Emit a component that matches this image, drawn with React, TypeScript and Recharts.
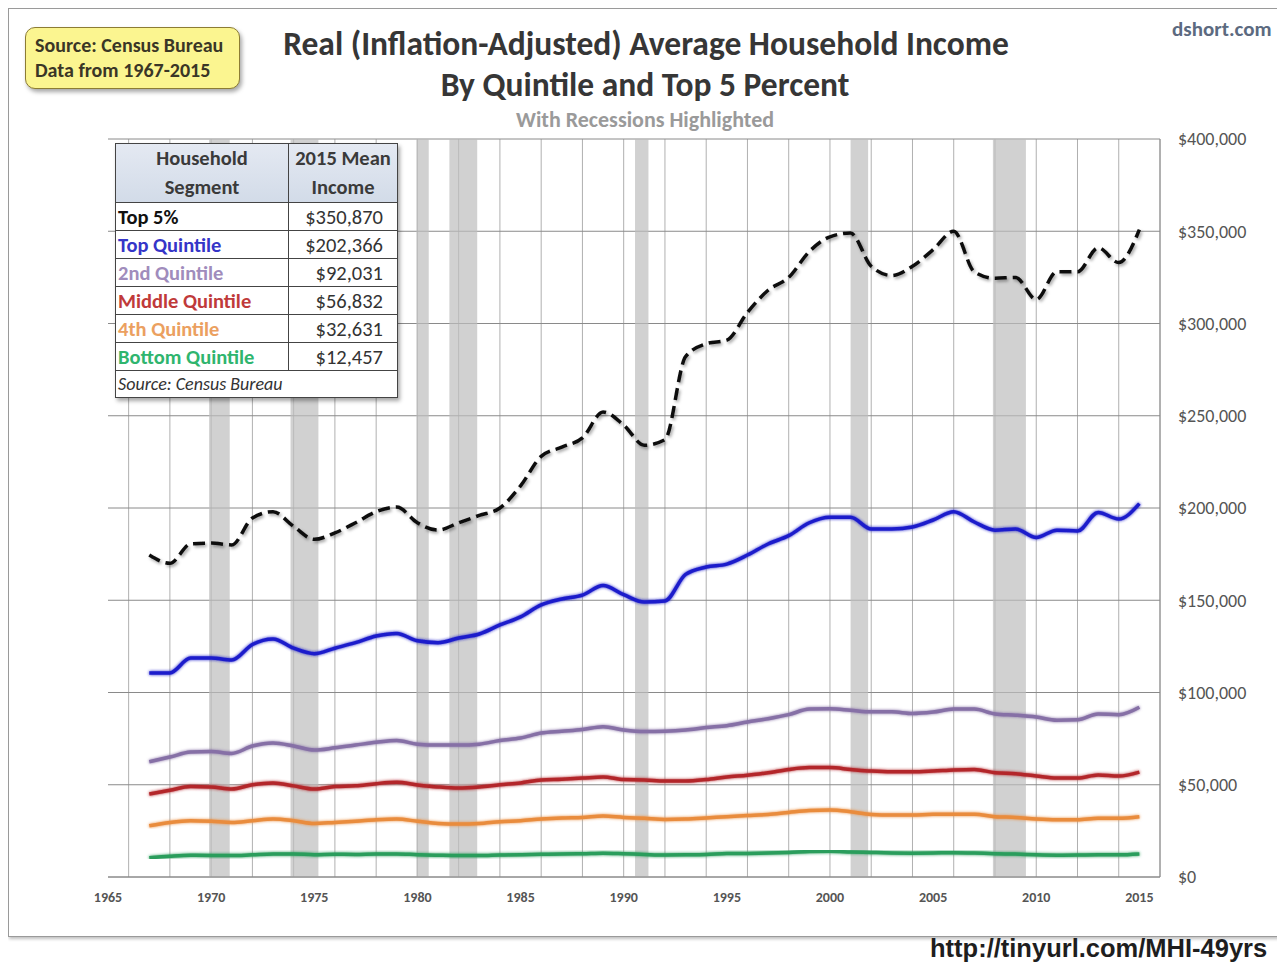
import {
  CartesianGrid,
  Line,
  LineChart,
  ReferenceArea,
  XAxis,
  YAxis,
} from "recharts";

const years = [
  1967, 1968, 1969, 1970, 1971, 1972, 1973, 1974, 1975, 1976, 1977, 1978,
  1979, 1980, 1981, 1982, 1983, 1984, 1985, 1986, 1987, 1988, 1989, 1990,
  1991, 1992, 1993, 1994, 1995, 1996, 1997, 1998, 1999, 2000, 2001, 2002,
  2003, 2004, 2005, 2006, 2007, 2008, 2009, 2010, 2011, 2012, 2013, 2014,
  2015,
];

const top5 = [
  174500, 170000, 180500, 181000, 180000, 194600, 198000, 190000, 183000,
  186500, 192000, 198000, 200500, 192000, 188000, 192000, 196000, 200000,
  212000, 228000, 233000, 238000, 252000, 245000, 234000, 237000, 282000,
  289000, 291000, 306000, 318000, 325000, 339000, 347000, 349000, 331000,
  326000, 331000, 340000, 350000, 328000, 324500, 325000, 313000, 328000,
  328000, 341000, 333000, 350870,
];

const topQuintile = [
  110600, 110600, 118700, 118700, 117600, 126000, 129000, 124000, 121000,
  124000, 127000, 130600, 132000, 128000, 127000, 129500, 131700, 136600,
  141000, 147500, 150700, 152800, 158000, 153000, 149000, 149600, 164000,
  168000, 169600, 174500, 180500, 185000, 192000, 195000, 195000, 188600,
  188600, 189700, 193500, 198000, 192400, 188000, 188600, 184000, 188000,
  187500, 197600, 194000, 202366,
];

const secondQuintile = [
  62500, 65000, 67700, 68000, 67000, 71000, 72600, 71000, 68800, 70000,
  71500, 73000, 74000, 72000, 71500, 71500, 72000, 74000, 75300, 78000,
  79000, 80000, 81500, 79700, 78800, 79000, 79700, 81000, 82000, 84000,
  85800, 88000, 91000, 91200, 90400, 89500, 89500, 88600, 89400, 91000,
  91000, 88400, 87700, 86700, 85000, 85200, 88400, 88000, 92031,
];

const middleQuintile = [
  45000, 47000, 49000, 48800, 47700, 50000, 51000, 49400, 47700, 49000,
  49400, 50600, 51300, 49900, 48800, 48200, 48800, 50000, 51000, 52600,
  53000, 53600, 54200, 52800, 52600, 52000, 52000, 52800, 54200, 55200,
  56500, 58300, 59300, 59300, 58300, 57400, 57000, 57000, 57400, 58000,
  58300, 56500, 56000, 54700, 53600, 53600, 55300, 54700, 56832,
];

const fourthQuintile = [
  27800, 29600, 30500, 30200, 29600, 30500, 31400, 30500, 29000, 29600,
  30200, 31000, 31400, 30200, 29000, 28700, 29000, 30000, 30500, 31400,
  32000, 32300, 33000, 32300, 31800, 31200, 31400, 32000, 32700, 33300,
  33900, 35000, 36000, 36300, 35400, 33900, 33600, 33600, 34000, 34000,
  34000, 32700, 32300, 31400, 31000, 31000, 31800, 31800, 32631,
];

const bottomQuintile = [
  10500, 11300, 11800, 11700, 11600, 12000, 12400, 12500, 12100, 12300,
  12200, 12500, 12500, 12100, 11800, 11600, 11600, 11900, 12100, 12300,
  12500, 12600, 12900, 12600, 12200, 11900, 12000, 12200, 12700, 12800,
  13000, 13300, 13800, 13900, 13600, 13300, 13000, 12900, 13000, 13200,
  13000, 12600, 12400, 12000, 11800, 11900, 12100, 12000, 12457,
];

// recession periods (fractional years)
const recessionStarts = [1969.9, 1973.85, 1979.95, 1981.55, 1990.55, 2001.0, 2007.9];
const recessionEnds = [1970.9, 1975.2, 1980.55, 1982.9, 1991.2, 2001.85, 2009.5];

const yTicks = [0, 50000, 100000, 150000, 200000, 250000, 300000, 350000, 400000];
const labeledYears = [1965, 1970, 1975, 1980, 1985, 1990, 1995, 2000, 2005, 2010, 2015];
const gridYears = Array.from({ length: 52 }, (_, i) => 1965 + i);

const tableSegments = [
  "Top 5%",
  "Top Quintile",
  "2nd Quintile",
  "Middle Quintile",
  "4th Quintile",
  "Bottom Quintile",
];
const tableIncomes = ["$350,870", "$202,366", "$92,031", "$56,832", "$32,631", "$12,457"];
const tableColors = ["#111111", "#3535c8", "#a08cbc", "#c03a3a", "#eba060", "#2fb56e"];

const data = years.map((y, i) => ({
  year: y,
  top5: top5[i],
  topQ: topQuintile[i],
  secondQ: secondQuintile[i],
  middleQ: middleQuintile[i],
  fourthQ: fourthQuintile[i],
  bottomQ: bottomQuintile[i],
}));

const FONT = "Calibri, Carlito, Lato, 'Noto Sans', sans-serif";

const fmtMoney = (v: number) => "$" + v.toLocaleString("en-US");

const cell = { border: "1.5px solid #444", padding: 0 };

export default function App() {
  return (
    <div style={{ position: "relative", width: 1277, height: 954, fontFamily: FONT }}>
      <div
        style={{
          position: "absolute",
          left: 0,
          top: 0,
          width: 1272,
          height: 927,
          border: "1px solid #9a9a9a",
          boxShadow: "1px 2px 3px rgba(0,0,0,0.25)",
          background: "#fff",
        }}
      >
        <LineChart
          width={1272}
          height={927}
          data={data}
          margin={{ top: 130, right: 21, left: 99, bottom: 29 }}
        >
          <defs>
            <filter id="glow" x="-5%" y="-20%" width="110%" height="140%">
              <feGaussianBlur in="SourceGraphic" stdDeviation="1.6" />
              <feMerge>
                <feMergeNode />
                <feMergeNode in="SourceGraphic" />
              </feMerge>
            </filter>
            <filter id="shadow" x="-5%" y="-20%" width="110%" height="140%">
              <feDropShadow dx="1.5" dy="2" stdDeviation="1.5" floodColor="#000" floodOpacity="0.35" />
            </filter>
          </defs>
          <CartesianGrid
            horizontal={false}
            stroke="#b0b0b0"
            strokeWidth={1}
            verticalValues={gridYears}
          />
          {recessionStarts.map((s, i) => (
            <ReferenceArea
              key={s}
              x1={s}
              x2={recessionEnds[i]}
              fill="#bdbdbd"
              fillOpacity={0.7}
              strokeOpacity={0}
              ifOverflow="hidden"
            />
          ))}
          <CartesianGrid vertical={false} stroke="#8a8a8a" strokeWidth={1} />
          <XAxis
            dataKey="year"
            type="number"
            domain={[1965, 2016]}
            ticks={labeledYears}
            allowDataOverflow
            height={30}
            axisLine={{ stroke: "#8a8a8a" }}
            tickLine={false}
            tickMargin={9}
            tick={{ fill: "#555", fontSize: 14, fontWeight: 700, fontFamily: FONT }}
          />
          <YAxis
            orientation="right"
            domain={[0, 400000]}
            ticks={yTicks}
            width={100}
            axisLine={{ stroke: "#8a8a8a" }}
            tickLine={false}
            tickMargin={12}
            tickFormatter={fmtMoney}
            tick={{ fill: "#555", fontSize: 18, fontFamily: FONT }}
          />
          <Line
            type="monotone"
            dataKey="bottomQ"
            stroke="#2a9d5c"
            strokeWidth={3.5}
            dot={false}
            filter="url(#glow)"
            isAnimationActive={false}
          />
          <Line
            type="monotone"
            dataKey="fourthQ"
            stroke="#e98c3e"
            strokeWidth={3.5}
            dot={false}
            filter="url(#glow)"
            isAnimationActive={false}
          />
          <Line
            type="monotone"
            dataKey="middleQ"
            stroke="#b3282c"
            strokeWidth={3.5}
            dot={false}
            filter="url(#glow)"
            isAnimationActive={false}
          />
          <Line
            type="monotone"
            dataKey="secondQ"
            stroke="#8670a6"
            strokeWidth={3.5}
            dot={false}
            filter="url(#glow)"
            isAnimationActive={false}
          />
          <Line
            type="monotone"
            dataKey="topQ"
            stroke="#1e1ecb"
            strokeWidth={3.5}
            dot={false}
            filter="url(#glow)"
            isAnimationActive={false}
          />
          <Line
            type="monotone"
            dataKey="top5"
            stroke="#111"
            strokeWidth={3.5}
            strokeDasharray="12 6"
            dot={false}
            filter="url(#shadow)"
            isAnimationActive={false}
          />
        </LineChart>

        {/* source badge */}
        <div
          style={{
            position: "absolute",
            left: 16,
            top: 18,
            width: 215,
            height: 62,
            background: "#fbf590",
            border: "1.5px solid #8c7c34",
            borderRadius: 10,
            boxShadow: "2px 3px 4px rgba(0,0,0,0.35)",
            fontSize: 20,
            fontWeight: 700,
            color: "#3a3626",
            padding: "5px 0 0 9px",
            boxSizing: "border-box",
            lineHeight: "25px",
            whiteSpace: "nowrap",
          }}
        >
          <div>Source: Census Bureau</div>
          <div>Data from 1967-2015</div>
        </div>

        {/* titles */}
        <div
          style={{
            position: "absolute",
            left: 0,
            width: 1272,
            top: 14,
            textAlign: "center",
            color: "#363636",
            fontWeight: 700,
            fontSize: 33.5,
            lineHeight: "41px",
          }}
        >
          <div style={{ paddingLeft: 2 }}>Real (Inflation-Adjusted) Average Household Income</div>
          <div>By Quintile and Top 5 Percent</div>
        </div>
        <div
          style={{
            position: "absolute",
            left: 0,
            width: 1272,
            top: 97,
            textAlign: "center",
            color: "#9a9a9a",
            fontWeight: 700,
            fontSize: 22,
          }}
        >
          With Recessions Highlighted
        </div>
        <div
          style={{
            position: "absolute",
            left: 1163,
            top: 7,
            color: "#5c6a80",
            fontWeight: 700,
            fontSize: 21,
          }}
        >
          dshort.com
        </div>

        {/* summary table */}
        <table
          style={{
            position: "absolute",
            left: 106,
            top: 134,
            width: 283,
            borderCollapse: "collapse",
            background: "#fff",
            boxShadow: "2px 3px 4px rgba(0,0,0,0.35)",
            border: "1.5px solid #444",
            fontSize: 20.5,
            tableLayout: "fixed",
          }}
        >
          <thead>
            <tr style={{ background: "linear-gradient(#e4e9f2, #d2dbe8)" }}>
              <th
                style={{
                  ...cell,
                  width: 172,
                  fontWeight: 700,
                  color: "#3a3a3a",
                  lineHeight: "29px",
                }}
              >
                Household
                <br />
                Segment
              </th>
              <th
                style={{
                  ...cell,
                  fontWeight: 700,
                  color: "#3a3a3a",
                  lineHeight: "29px",
                }}
              >
                2015 Mean
                <br />
                Income
              </th>
            </tr>
          </thead>
          <tbody>
            {tableSegments.map((seg, i) => (
              <tr key={seg} style={{ height: 28 }}>
                <td
                  style={{
                    ...cell,
                    color: tableColors[i],
                    fontWeight: 700,
                    padding: "0 2px",
                    lineHeight: "26px",
                    whiteSpace: "nowrap",
                  }}
                >
                  {seg}
                </td>
                <td
                  style={{
                    ...cell,
                    color: "#333",
                    textAlign: "right",
                    padding: "0 14px 0 0",
                    lineHeight: "26px",
                  }}
                >
                  {tableIncomes[i]}
                </td>
              </tr>
            ))}
            <tr style={{ height: 27 }}>
              <td
                colSpan={2}
                style={{
                  ...cell,
                  fontStyle: "italic",
                  fontSize: 18,
                  color: "#333",
                  padding: "0 2px",
                  lineHeight: "25px",
                }}
              >
                Source: Census Bureau
              </td>
            </tr>
          </tbody>
        </table>
      </div>

      <div
        style={{
          position: "absolute",
          left: 922,
          top: 926,
          fontFamily: "'Liberation Sans', Arial, sans-serif",
          fontWeight: 700,
          fontSize: 25.5,
          color: "#1e1e1e",
          whiteSpace: "nowrap",
        }}
      >
        http://tinyurl.com/MHI-49yrs
      </div>
    </div>
  );
}
